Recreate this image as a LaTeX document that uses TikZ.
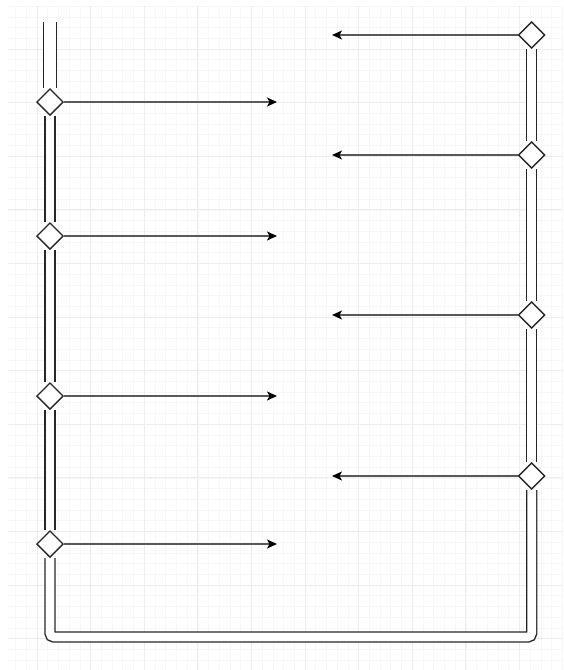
\documentclass[tikz,border=0pt]{standalone}
\usetikzlibrary{shapes.geometric,arrows.meta}
\tikzset{
  gridminor/.style={draw=gray!6, line width=0.6pt},
  gridmajor/.style={draw=gray!14, line width=0.8pt},
  valve/.style={diamond, draw=black!85, fill=white, line width=1.4pt,
                inner sep=0pt, minimum size=26.6pt},
  pipe/.style={draw=black!85, line width=1.4pt, double=white, double distance=8.6pt},
  pipewide/.style={pipe, double distance=11.8pt},
  flow/.style={draw=black!65, line width=1.3pt,
               -{Stealth[length=10pt, width=9pt, inset=2.5pt, color=black]}},
}
\begin{document}
\begin{tikzpicture}[x=1pt, y=-1pt]
  \useasboundingbox (0,0) rectangle (563,670);

  %% --- 背景の方眼 ---
  \begin{scope}
    \clip (8,6) rectangle (563,670);
    \foreach \x in {4.84,15.56,...,563} \draw[gridminor] (\x,6) -- (\x,670);
    \foreach \y in {6.12,16.84,...,670} \draw[gridminor] (8,\y) -- (563,\y);
    \foreach \x in {37,90.6,...,563} \draw[gridmajor] (\x,6) -- (\x,670);
    \foreach \y in {49,102.6,...,670} \draw[gridmajor] (8,\y) -- (563,\y);
  \end{scope}

  %% --- 左側のバルブ ---
  \node[valve] (L1) at (50,102) {};
  \node[valve] (L2) at (50,236) {};
  \node[valve] (L3) at (50,396) {};
  \node[valve] (L4) at (50,544) {};

  %% --- 右側のバルブ ---
  \node[valve] (R1) at (531.7,35) {};
  \node[valve] (R2) at (531.7,155) {};
  \node[valve] (R3) at (531.7,315) {};
  \node[valve] (R4) at (531.7,476) {};

  %% 配管の端点と角
  \coordinate (inlet) at (50,22);
  \coordinate (cornerL) at (50,637);
  \coordinate (cornerR) at (531.7,637);

  %% --- 二重線の配管 ---
  \draw[pipewide] (inlet) -- (L1);
  \draw[pipe] (L1) -- (L2);
  \draw[pipe] (L2) -- (L3);
  \draw[pipe] (L3) -- (L4);
  \draw[pipe, rounded corners=4pt] (L4) -- (cornerL) -- (cornerR) -- (R4);
  \draw[pipe] (R4) -- (R3);
  \draw[pipe] (R3) -- (R2);
  \draw[pipe] (R2) -- (R1);

  %% 矢印の先端
  \coordinate (L1e) at (277,102);
  \coordinate (L2e) at (277,236);
  \coordinate (L3e) at (277,396);
  \coordinate (L4e) at (277,544);
  \coordinate (R1e) at (332,35);
  \coordinate (R2e) at (332,155);
  \coordinate (R3e) at (332,315);
  \coordinate (R4e) at (332,476);

  %% --- 分岐の矢印 ---
  \foreach \v in {L1,L2,L3,L4,R1,R2,R3,R4}
    \draw[flow] (\v) -- (\v e);
\end{tikzpicture}
\end{document}
